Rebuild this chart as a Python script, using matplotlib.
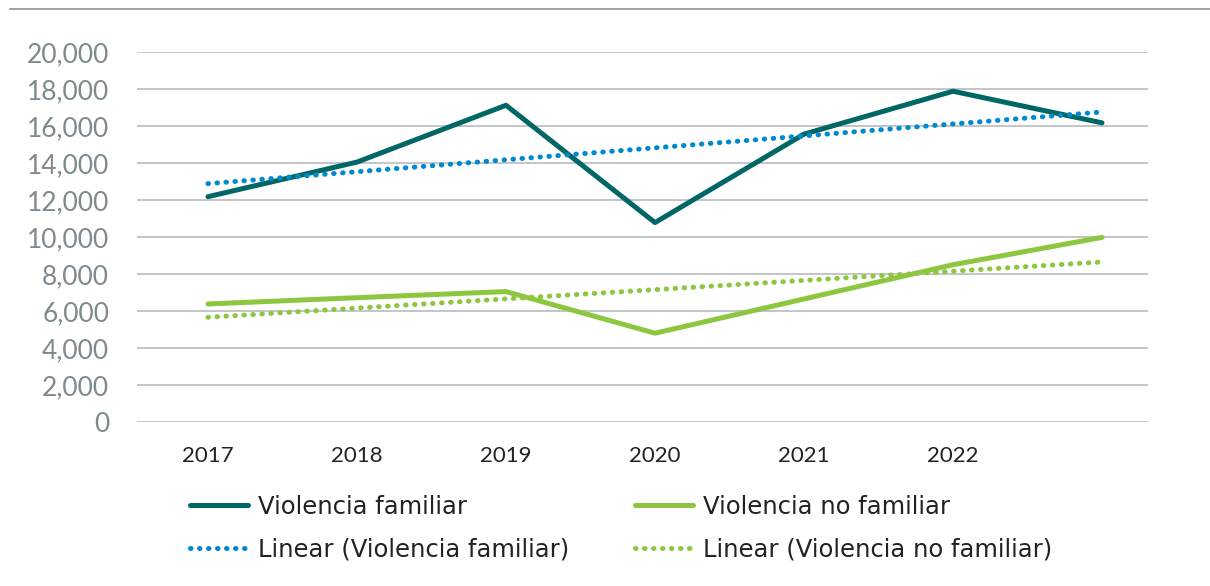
import numpy as np
import matplotlib
matplotlib.use("Agg")
import matplotlib.pyplot as plt
from matplotlib.lines import Line2D
from matplotlib.ticker import FuncFormatter

plt.rcParams['font.family'] = ['Lato', 'DejaVu Sans']

years = ['2017', '2018', '2019', '2020', '2021', '2022', '']
familiar = [12180, 14050, 17120, 10780, 15560, 17880, 16170]
no_familiar = [6380, 6720, 7050, 4800, 6650, 8500, 9980]

teal = '#006666'
green = '#8dc63f'
blue = '#0089cf'
dotted = (0, (0.1, 1.7))

fig = plt.figure(figsize=(12.1, 5.86), dpi=100)
ax = fig.add_axes([137/1210, 1-422/586, (1148-137)/1210, 370/586])

x = np.arange(len(years))
ax.plot(x, familiar, color=teal, lw=3.6, solid_capstyle='round', label='Violencia familiar', zorder=3)
ax.plot(x, no_familiar, color=green, lw=3.6, solid_capstyle='round', label='Violencia no familiar', zorder=3)

# linear trendlines like excel
k1, b1 = np.polyfit(x, familiar, 1)
k2, b2 = np.polyfit(x, no_familiar, 1)
ax.plot(x, k1*x + b1, color=blue, lw=3.6, ls=dotted, dash_capstyle='round',
        label='Linear (Violencia familiar)', zorder=4)
ax.plot(x, k2*x + b2, color=green, lw=3.6, ls=dotted, dash_capstyle='round',
        label='Linear (Violencia no familiar)', zorder=4)

ax.set_ylim(0, 20000)
ax.set_yticks(range(0, 20001, 2000))
ax.yaxis.set_major_formatter(FuncFormatter(lambda v, p: f'{int(v):,}'))
ax.set_xlim((137-208)/149, (1148-208)/149)
ax.set_xticks(x)
ax.set_xticklabels(years)
ax.grid(axis='y', color='#c3c6c9', lw=1.4)
ax.set_axisbelow(True)
for s in ax.spines.values():
    s.set_visible(False)
ax.tick_params(axis='y', length=0, pad=20, labelsize=19, labelcolor='#7d8a90')
ax.tick_params(axis='x', length=0, pad=17, labelsize=16, labelcolor='#222222')

h, l = ax.get_legend_handles_labels()
order = [0, 2, 1, 3]
fig.legend([h[i] for i in order], [l[i] for i in order], ncol=2, frameon=False,
           loc='upper left', bbox_to_anchor=(190/1210, 1-495/586), borderpad=0, borderaxespad=0,
           prop={'family': 'DejaVu Sans', 'size': 17.5},
           handlelength=2.4, handletextpad=0.4, columnspacing=2.7, labelspacing=0.76,
           labelcolor='#222222')

# top border line
fig.add_artist(Line2D([10/1210, 1.0], [1-9/586, 1-9/586], color='#8a9499', lw=1.2))

fig.savefig('out.png', dpi=100)
